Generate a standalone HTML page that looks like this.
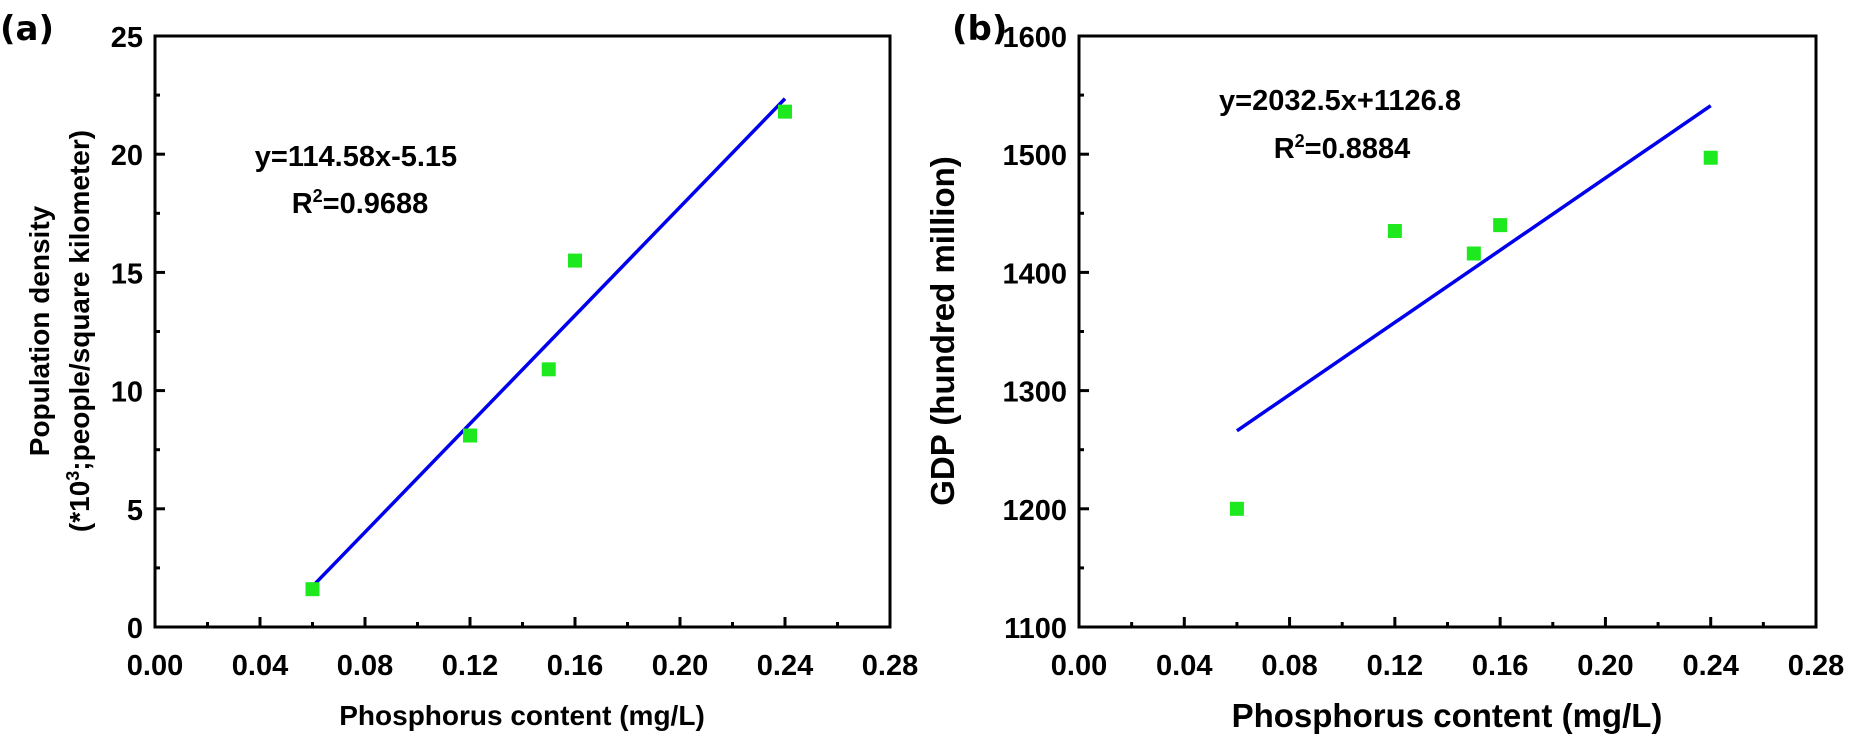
<!DOCTYPE html>
<html><head><meta charset="utf-8"><style>
body{margin:0;background:#fff;}
svg{display:block;font-family:"Liberation Sans",Arial,sans-serif;}
</style></head><body>
<svg id="fig" width="1859" height="747" xmlns="http://www.w3.org/2000/svg"></svg>
<script>
const xTicks=[0,0.04,0.08,0.12,0.16,0.20,0.24,0.28];
const xLabels=["0.00","0.04","0.08","0.12","0.16","0.20","0.24","0.28"];
const pX=[0.06,0.12,0.15,0.16,0.24];
const aY=[1.6,8.1,10.9,15.5,21.8];
const aTicks=[0,5,10,15,20,25];
const aFitX=[0.06,0.24];
const aFitY=[1.72,22.35];
const bY=[1200,1435,1416,1440,1497];
const bTicks=[1100,1200,1300,1400,1500,1600];
const bFitX=[0.06,0.24];
const bFitY=[1266,1541];

const NS="http://www.w3.org/2000/svg";
const svg=document.getElementById('fig');
function mk(tag,attrs,parent,text){const e=document.createElementNS(NS,tag);for(const k in attrs)e.setAttribute(k,attrs[k]);if(text!==undefined)e.textContent=text;(parent||svg).appendChild(e);return e;}

function panel(id,L,R,T,B,ymin,ymax,yTicks,ys,fitX,fitY,yStep){
  const g=mk('g',{});
  
  
  const sx=v=>L+(v-0)/(0.28)*(R-L);
  const sy=v=>B-(v-ymin)/(ymax-ymin)*(B-T);
  for(let i=0;i<xTicks.length;i++){
    const x=sx(xTicks[i]);
    const t=mk('line',{x1:x,x2:x,y1:B,y2:B-10,stroke:'#000','stroke-width':3},g);
    
    
    if(i<xTicks.length-1){const xm=sx(xTicks[i]+0.02);mk('line',{x1:xm,x2:xm,y1:B,y2:B-5,stroke:'#000','stroke-width':3},g);}
    const lb=mk('text',{x:x,y:B+48,'text-anchor':'middle','font-size':29,'font-weight':'bold'},g,xLabels[i]);
    
    
  }
  for(let i=0;i<yTicks.length;i++){
    const y=sy(yTicks[i]);
    const t=mk('line',{x1:L,x2:L+10,y1:y,y2:y,stroke:'#000','stroke-width':3},g);
    
    
    if(i<yTicks.length-1){const ym=sy(yTicks[i]+yStep/2);mk('line',{x1:L,x2:L+5,y1:ym,y2:ym,stroke:'#000','stroke-width':3},g);}
    const lb=mk('text',{x:L-12,y:y+11,'text-anchor':'end','font-size':29,'font-weight':'bold'},g,String(yTicks[i]));
    
    
  }
  const box=mk('rect',{x:L,y:T,width:R-L,height:B-T,fill:'none',stroke:'#000','stroke-width':3},g);
  
  
  const fl=mk('line',{x1:sx(fitX[0]),y1:sy(fitY[0]),x2:sx(fitX[1]),y2:sy(fitY[1]),stroke:'#0000ee','stroke-width':3.5},g);
  
  
  for(let i=0;i<pX.length;i++){
    const r=mk('rect',{x:sx(pX[i])-7,y:sy(ys[i])-7,width:14,height:14,fill:'#1ee81e'},g);
    
    
  }
  return g;
}
panel('a',155,890,36,627,0,25,aTicks,aY,aFitX,aFitY,5);
panel('b',1079,1816,36,627,1100,1600,bTicks,bY,bFitX,bFitY,100);
</script>
<svg style="position:absolute;left:0;top:0" width="1859" height="747" xmlns="http://www.w3.org/2000/svg" font-family="Liberation Sans, Arial, sans-serif">
<text x="0" y="40" font-size="34" font-weight="bold" font-family="DejaVu Sans, sans-serif">(a)</text>
<text x="952" y="40" font-size="34" font-weight="bold" font-family="DejaVu Sans, sans-serif">(b)</text>
<text x="522" y="725" text-anchor="middle" font-size="28" font-weight="bold">Phosphorus content (mg/L)</text>
<text x="1447" y="727" text-anchor="middle" font-size="33" font-weight="bold">Phosphorus content (mg/L)</text>
<text transform="translate(49,331) rotate(-90)" text-anchor="middle" font-size="28" font-weight="bold">Population density</text>
<text transform="translate(89,331) rotate(-90)" text-anchor="middle" font-size="28" font-weight="bold">(*10<tspan dy="-10" font-size="18">3</tspan><tspan dy="10">;people/square kilometer)</tspan></text>
<text transform="translate(954,331) rotate(-90)" text-anchor="middle" font-size="33" font-weight="bold">GDP (hundred million)</text>
<text x="356" y="166" text-anchor="middle" font-size="29" font-weight="bold">y=114.58x-5.15</text>
<text x="360" y="213" text-anchor="middle" font-size="29" font-weight="bold">R<tspan dy="-11" font-size="18">2</tspan><tspan dy="11">=0.9688</tspan></text>
<text x="1340" y="110" text-anchor="middle" font-size="29" font-weight="bold">y=2032.5x+1126.8</text>
<text x="1342" y="158" text-anchor="middle" font-size="29" font-weight="bold">R<tspan dy="-11" font-size="18">2</tspan><tspan dy="11">=0.8884</tspan></text>
</svg>
</body></html>
